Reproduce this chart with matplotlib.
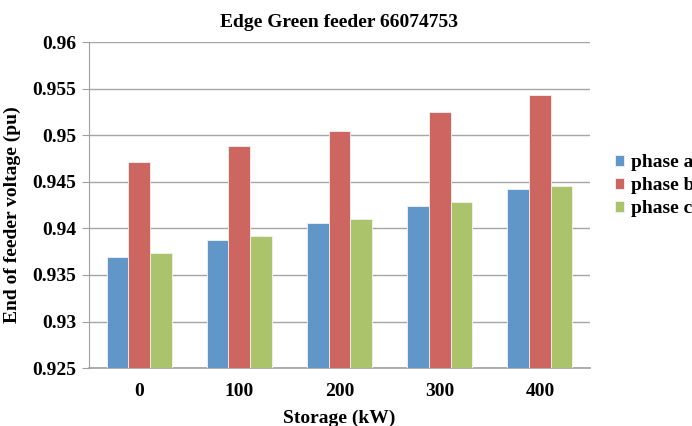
import numpy as np
import matplotlib
matplotlib.use("Agg")
import matplotlib.pyplot as plt
from matplotlib.ticker import MultipleLocator

# Storage sizes and end-of-feeder voltage per phase
storage_kw = ["0", "100", "200", "300", "400"]
phase_a = [0.9369, 0.9388, 0.9406, 0.9424, 0.9442]
phase_b = [0.9471, 0.9488, 0.9505, 0.9525, 0.9543]
phase_c = [0.9374, 0.9392, 0.9410, 0.9428, 0.9446]
series_names = ["phase a", "phase b", "phase c"]

colors = ["#6196C9", "#CD6661", "#ABC46B"]
font = "Liberation Serif"

fig = plt.figure(figsize=(6.92, 4.26), dpi=100)
ax = fig.add_axes([0.1286, 0.136, 0.7240, 0.765])

x = np.arange(len(storage_kw))
width = 0.216
handles = []
for i, (vals, name, col) in enumerate(zip([phase_a, phase_b, phase_c], series_names, colors)):
    h = ax.bar(x + (i - 1) * width, vals, width, color=col, edgecolor="#F2F2F2",
               linewidth=0.6, label=name, zorder=3)
    handles.append(h)

ax.set_ylim(0.925, 0.96)
ax.set_xlim(-0.5, len(storage_kw) - 0.5)
ax.yaxis.set_major_locator(MultipleLocator(0.005))
ax.yaxis.set_major_formatter(plt.FuncFormatter(lambda v, p: ("%.3f" % v).rstrip("0").rstrip(".")))
ax.grid(axis="y", color="#A6A6A6", linewidth=1.0, zorder=0)
ax.set_xticks(x)
ax.set_xticklabels(storage_kw)

for side in ["top", "right"]:
    ax.spines[side].set_visible(False)
ax.spines["left"].set_color("#A0A0A0")
ax.spines["bottom"].set_color("#A0A0A0")
ax.spines["bottom"].set_linewidth(1.2)
ax.tick_params(axis="y", length=5, color="#A0A0A0", pad=4)
ax.tick_params(axis="x", length=0, pad=11)

for lab in ax.get_xticklabels() + ax.get_yticklabels():
    lab.set_fontfamily(font)
    lab.set_fontweight("bold")
    lab.set_fontsize(14)

ax.set_title("Edge Green feeder 66074753", fontfamily=font, fontweight="bold",
             fontsize=14, pad=11)
ax.set_ylabel("End of feeder voltage (pu)", fontfamily=font, fontweight="bold",
              fontsize=14)
ax.yaxis.set_label_coords(-0.135, 0.47)
ax.set_xlabel("Storage (kW)", fontfamily=font, fontweight="bold", fontsize=14,
              labelpad=7)

fig.legend(handles=handles, labels=series_names, loc="upper left",
           bbox_to_anchor=(0.877, 0.656), frameon=False,
           prop={"family": font, "weight": "bold", "size": 14},
           handlelength=0.5, handleheight=0.5, handletextpad=0.35,
           labelspacing=0.3, borderaxespad=0)

fig.savefig("out.png", dpi=100)
